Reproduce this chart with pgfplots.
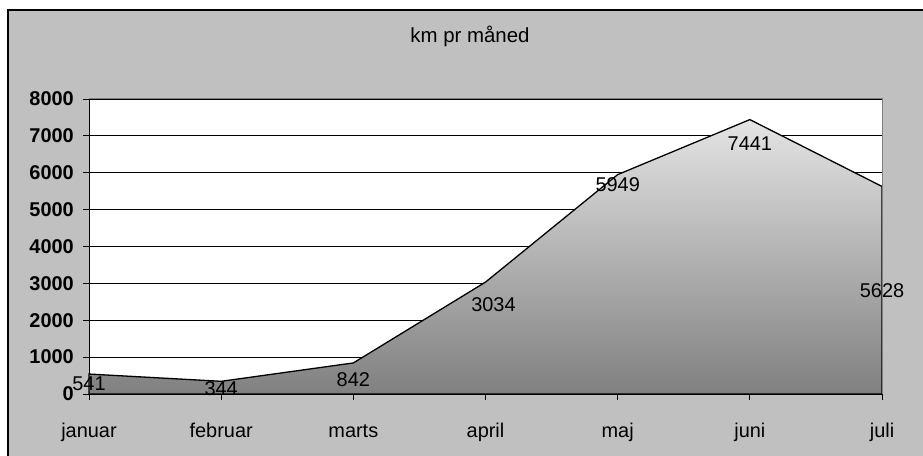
\documentclass[border=0pt]{standalone}
\usepackage{pgfplots}
\pgfplotsset{compat=1.18}
\usepackage{fontspec}
\setmainfont{Liberation Sans}
\definecolor{bggray}{HTML}{C0C0C0}
\definecolor{areatop}{HTML}{E4E4E4}
\definecolor{areabot}{HTML}{808080}
\definecolor{frame}{HTML}{808080}
\begin{document}
\begin{tikzpicture}[x=1bp,y=1bp]
\useasboundingbox (0,0) rectangle (923,456);
\fill[white] (0,0) rectangle (923,456);
\fill[bggray] (7,0) rectangle (923,447);
\draw[black, line width=2bp] (8,-2) -- (8,446) -- (925,446);
\node[anchor=base, font=\fontsize{20.5}{24}\selectfont] at (470,413) {km pr måned};
\begin{axis}[
  at={(89bp,62bp)}, anchor=south west,
  scale only axis, width=793bp, height=295bp,
  xmin=0, xmax=6, ymin=0, ymax=8000,
  clip=false,
  axis background/.style={fill=white},
  axis x line*=bottom, axis y line*=left,
  axis line style={black, line width=1bp, -},
  xtick={0,...,6},
  xticklabels={januar,februar,marts,april,maj,juni,juli},
  ytick={0,1000,...,8000},
  ymajorgrids, grid style={black, line width=0.8bp},
  tick align=outside, major tick length=6bp,
  tick style={black, line width=0.8bp},
  scaled y ticks=false,
  /pgf/number format/1000 sep={},
  /pgf/number format/assume math mode=true,
  xticklabel style={font=\fontsize{20}{24}\selectfont, anchor=base, yshift=-38bp},
  yticklabel style={font=\fontsize{20}{24}\selectfont\bfseries, anchor=east, inner sep=0pt, xshift=-9bp},
  extra description/.code={\draw[frame, line width=1bp] (rel axis cs:0,1) -- (rel axis cs:1,1) -- (rel axis cs:1,0);},
]
\addplot[draw=black, line width=1.3bp, top color=areatop, bottom color=areabot]
  coordinates {(0,541) (1,344) (2,842) (3,3034) (4,5949) (5,7441) (6,5628)} \closedcycle;
\addplot[draw=none, mark=none, nodes near coords, point meta=explicit symbolic,
  nodes near coords style={anchor=center, inner sep=0pt, font=\fontsize{20}{24}\selectfont}]
  coordinates {(0,271)[541] (1,144)[344] (2,380)[842] (3.06,2427)[3034] (4,5668)[5949] (5,6780)[7441] (6,2799)[5628]};
\end{axis}
\end{tikzpicture}
\end{document}
